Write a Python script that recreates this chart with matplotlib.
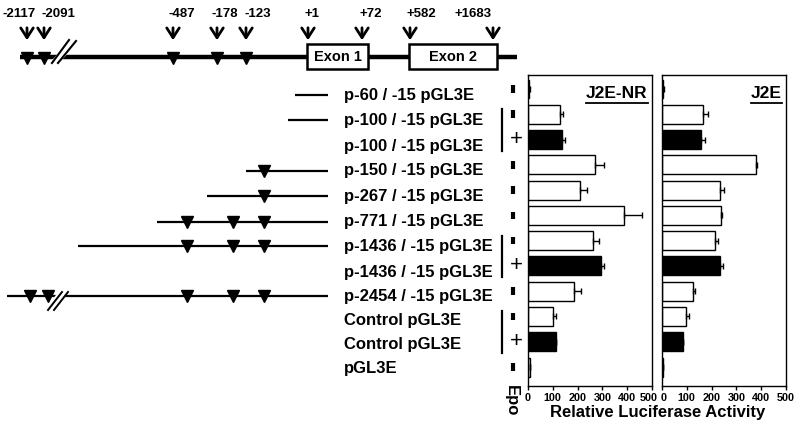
import matplotlib
matplotlib.use("Agg")
import matplotlib.pyplot as plt
import matplotlib.transforms as mtransforms
import numpy as np

plt.rcParams['font.family'] = ['Liberation Sans', 'DejaVu Sans']
plt.rcParams['font.weight'] = 'bold'

# ---------------- data ----------------
construct_labels = ["p-60 / -15 pGL3E", "p-100 / -15 pGL3E", "p-100 / -15 pGL3E",
                    "p-150 / -15 pGL3E", "p-267 / -15 pGL3E", "p-771 / -15 pGL3E",
                    "p-1436 / -15 pGL3E", "p-1436 / -15 pGL3E", "p-2454 / -15 pGL3E",
                    "Control pGL3E", "Control pGL3E", "pGL3E"]
epo = ['-', '-', '+', '-', '-', '-', '-', '+', '-', '-', '+', '-']
nr_vals = [4, 130, 136, 272, 209, 389, 261, 295, 186, 99, 112, 7]
nr_err = [4, 12, 14, 33, 28, 72, 24, 13, 27, 13, 0, 0]
j2e_vals = [5, 165, 159, 379, 235, 238, 212, 235, 126, 98, 85, 6]
j2e_err = [2, 19, 13, 5, 15, 4, 13, 10, 8, 10, 0, 0]
panel_titles = ["J2E-NR", "J2E"]
xticks = [0, 100, 200, 300, 400, 500]
xlabel = "Relative Luciferase Activity"

# gene map
map_labels = ["-2117", "-2091", "-487", "-178", "-123", "+1", "+72", "+582", "+1683"]
exon_labels = ["Exon 1", "Exon 2"]

# ---------------- layout (schematic pixel positions) ----------------
map_arrow_x = [27, 44, 173, 217, 246, 308, 362, 410, 493]
map_label_x = [19, 58, 182, 225, 258, 312, 371, 421, 473]
map_tri_x = [27, 44, 173, 217, 246]
exon_boxes = [(307, 368), (409, 497)]
construct_left = [295, 288, None, 246, 207, 157, 78, None, 7, None, None, None]
construct_right = 328
construct_tris = [[], [], [], [264], [264], [187, 233, 264], [187, 233, 264], [],
                  [30, 48, 187, 233, 264], [], [], []]
brackets = [(1, 2), (6, 7), (9, 10)]

W, H = 800, 432
fig = plt.figure(figsize=(W / 100, H / 100), dpi=100)
bg = fig.add_axes([0, 0, 1, 1])
bg.set_xlim(0, W)
bg.set_ylim(H, 0)
bg.axis('off')

ax_top, ax_bot = 75, 386
n = len(construct_labels)
rows = np.arange(n)
ylims = (11.75, -0.554)

axes = []
for left in (528, 662):
    ax = fig.add_axes([left / W, 1 - ax_bot / H, 124 / W, (ax_bot - ax_top) / H])
    axes.append(ax)

for k, (ax, vals, errs, title) in enumerate(zip(axes, [nr_vals, j2e_vals],
                                                [nr_err, j2e_err], panel_titles)):
    colors = ['black' if e == '+' else 'white' for e in epo]
    ax.barh(rows, vals, height=0.75, color=colors, edgecolor='black', linewidth=1.0)
    ax.errorbar(vals, rows, xerr=[np.zeros(n), errs], fmt='none', ecolor='black',
                elinewidth=1.0, capsize=2.2, capthick=1.0)
    ax.set_xlim(0, 500)
    ax.set_ylim(*ylims)
    ax.set_yticks([])
    ax.set_xticks(xticks)
    ax.set_xticklabels([str(t) for t in xticks], fontsize=7.8, fontweight='bold')
    ax.tick_params(axis='x', direction='out', length=3, width=1, pad=2)
    labs = ax.get_xticklabels()
    if k == 0:
        off = mtransforms.ScaledTranslation(-3 / 100, 0, fig.dpi_scale_trans)
        labs[-1].set_transform(labs[-1].get_transform() + off)
    else:
        off = mtransforms.ScaledTranslation(1.5 / 100, 0, fig.dpi_scale_trans)
        labs[0].set_transform(labs[0].get_transform() + off)
    for s in ax.spines.values():
        s.set_linewidth(1.0)
    t = ax.text(0.965, 0.94, title, transform=ax.transAxes, ha='right', va='center',
                fontsize=12.5, fontweight='bold')
    fig.canvas.draw()
    bb = t.get_window_extent().transformed(ax.transAxes.inverted())
    ax.plot([bb.x0, bb.x1], [bb.y0 - 0.006, bb.y0 - 0.006], color='black', lw=1.3,
            transform=ax.transAxes, clip_on=False)

fig.text(658 / W, 1 - 413 / H, xlabel, ha='center', va='center', fontsize=12,
         fontweight='bold')

# blended transform: x in bg pixels, y in bar rows
tr = mtransforms.blended_transform_factory(bg.transData, axes[0].transData)
lab_off = [0.24, 0.24, 0.26, 0.24, 0.24, 0.26, 0.22, 0.24, 0.2, 0.16, 0.12, 0.05]

for i, lab in enumerate(construct_labels):
    y = rows[i] + lab_off[i]
    bg.text(344, y, lab, transform=tr, ha='left', va='center', fontsize=12,
            fontweight='bold')
    if construct_left[i] is not None:
        bg.plot([construct_left[i], construct_right], [y, y], color='black', lw=1.6,
                transform=tr, solid_capstyle='butt')
        for tx in construct_tris[i]:
            bg.plot(tx, y, marker='v', color='black', ms=8.5, transform=tr)
# slash on p-2454
bg.plot([48, 63], [310, 292], color='white', lw=5, solid_capstyle='butt')
bg.plot([48, 62], [310, 292], color='black', lw=1.4)
bg.plot([54, 68], [310, 292], color='black', lw=1.4)

# Epo column
for i, e in enumerate(epo):
    if e == '-':
        bg.plot([513, 513], [rows[i] - 0.15, rows[i] + 0.15], color='black', lw=3,
                transform=tr, solid_capstyle='butt')
    else:
        bg.text(516, rows[i], '+', transform=tr, ha='center', va='center',
                fontsize=16, fontweight='normal')
for a, b in brackets:
    bg.plot([502, 502], [rows[a] - 0.2, rows[b] + 0.45], color='black', lw=1.6,
            transform=tr)
bg.text(511, 401, 'Epo', rotation=-90, ha='center', va='center', fontsize=12,
        fontweight='bold')

# gene map
line_y = 57
bg.plot([20, 517], [line_y, line_y], color='black', lw=3.2, solid_capstyle='butt',
        zorder=1)
for tx in map_tri_x:
    bg.plot(tx, line_y + 1, marker='v', color='black', ms=8.5, zorder=3)
for (x0, x1), lab in zip(exon_boxes, exon_labels):
    bg.add_patch(plt.Rectangle((x0, 44), x1 - x0, 25, facecolor='white',
                               edgecolor='black', lw=1.8, zorder=4))
    bg.text((x0 + x1) / 2, 57, lab, ha='center', va='center', fontsize=10.5,
            fontweight='bold', zorder=5)
for ax_x, lx, lab in zip(map_arrow_x, map_label_x, map_labels):
    bg.annotate('', xy=(ax_x, 43), xytext=(ax_x, 25),
                arrowprops=dict(arrowstyle='->,head_length=0.7,head_width=0.45',
                                color='black', lw=2.0))
    bg.text(lx, 14, lab, ha='center', va='center', fontsize=9.5, fontweight='bold')
# slash on gene map
bg.plot([54, 76], [63, 40], color='white', lw=5, solid_capstyle='butt', zorder=2)
bg.plot([52, 69], [63, 40], color='black', lw=1.5, zorder=3)
bg.plot([58, 76], [63, 41], color='black', lw=1.5, zorder=3)

fig.savefig('out.png', dpi=100)
